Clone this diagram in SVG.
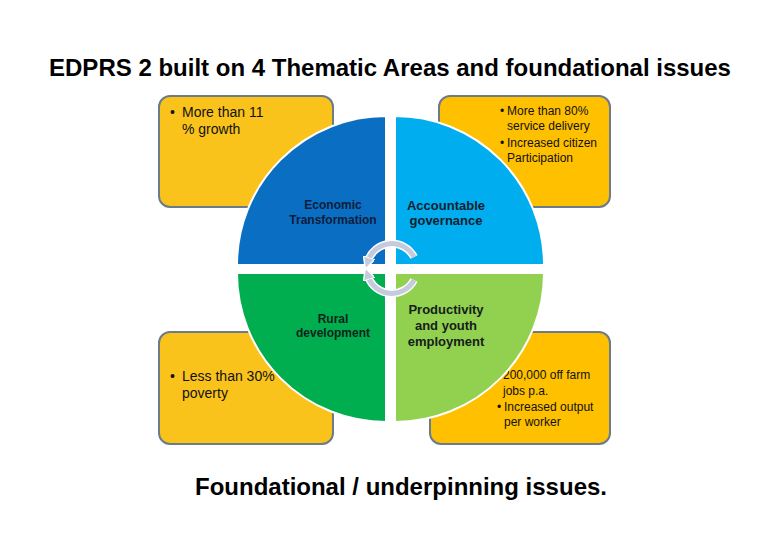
<svg xmlns="http://www.w3.org/2000/svg" width="780" height="540" viewBox="0 0 780 540">
<defs>
<style>
.box{stroke:#6b7b8c;stroke-width:2}
.boxL{fill:#FAC31C}
.boxR{fill:#FFC000}
.btxt{font-family:"Liberation Sans",Arial,sans-serif;fill:#111}
.quad{stroke:#ffffff;stroke-width:2}
.lbl{font-family:"Liberation Sans",Arial,sans-serif;font-weight:bold;text-anchor:middle}
.arc{fill:none;stroke:#C5CADD;stroke-width:5}
.arcw{fill:none;stroke:#ffffff;stroke-width:8}
</style>
<marker id="ah" viewBox="0 0 10 10" refX="3" refY="5" markerWidth="2.4" markerHeight="2.4" orient="auto" markerUnits="strokeWidth">
<path d="M0,0 L10,5 L0,10 Z" fill="#C5CADD" stroke="#ffffff" stroke-width="1.2"/>
</marker>
</defs>
<rect width="780" height="540" fill="#ffffff"/>
<text x="390" y="76" text-anchor="middle" font-family="Liberation Sans,Arial,sans-serif" font-weight="bold" font-size="24" fill="#000">EDPRS 2 built on 4 Thematic Areas and foundational issues</text>

<g id="box-tl">
<rect class="box boxL" x="159" y="96" width="174" height="111" rx="11"/>
<text class="btxt" font-size="14"><tspan x="170" y="117">•</tspan><tspan x="182" y="117">More than 11</tspan><tspan x="182" y="134">% growth</tspan></text>
</g>
<g id="box-tr">
<rect class="box boxR" x="439" y="96" width="171" height="111" rx="11"/>
<text class="btxt" font-size="12"><tspan x="500" y="115">•</tspan><tspan x="507" y="115">More than 80%</tspan><tspan x="507" y="130">service delivery</tspan><tspan x="500" y="147">•</tspan><tspan x="507" y="147">Increased citizen</tspan><tspan x="507" y="162">Participation</tspan></text>
</g>
<g id="box-bl">
<rect class="box boxL" x="159" y="332" width="174" height="112" rx="11"/>
<text class="btxt" font-size="14"><tspan x="170" y="381">•</tspan><tspan x="182" y="381">Less than 30%</tspan><tspan x="182" y="398">poverty</tspan></text>
</g>
<g id="box-br">
<rect class="box boxR" x="430" y="332" width="180" height="112" rx="11"/>
<text class="btxt" font-size="12"><tspan x="503" y="379">200,000 off farm</tspan><tspan x="503" y="395">jobs p.a.</tspan><tspan x="497" y="411">•</tspan><tspan x="504" y="411">Increased output</tspan><tspan x="504" y="426">per worker</tspan></text>
</g>

<g id="q-economic">
<path class="quad" d="M386,265 L237,265 A149,149 0 0 1 386,116 Z" fill="#0A6FC2"/>
<text class="lbl" font-size="12" fill="#0E1C3C"><tspan x="333" y="209">Economic</tspan><tspan x="333" y="224">Transformation</tspan></text>
</g>
<g id="q-governance">
<path class="quad" d="M395,265 L395,116 A149,149 0 0 1 544,265 Z" fill="#00AEEF"/>
<text class="lbl" font-size="13" fill="#14202E"><tspan x="446" y="210">Accountable</tspan><tspan x="446" y="225">governance</tspan></text>
</g>
<g id="q-rural">
<path class="quad" d="M386,273 L386,422 A149,149 0 0 1 237,273 Z" fill="#00AE4F"/>
<text class="lbl" font-size="12" fill="#10241A"><tspan x="333" y="323">Rural</tspan><tspan x="333" y="337">development</tspan></text>
</g>
<g id="q-productivity">
<path class="quad" d="M395,273 L544,273 A149,149 0 0 1 395,422 Z" fill="#92D050"/>
<text class="lbl" font-size="13" fill="#14201A"><tspan x="446" y="314">Productivity</tspan><tspan x="446" y="330">and youth</tspan><tspan x="446" y="346">employment</tspan></text>
</g>

<g id="connectors">
<path class="arcw" d="M414,257 A25,25 0 0 0 368,261"/>
<path class="arc" d="M414,257 A25,25 0 0 0 368,261" marker-end="url(#ah)"/>
<path class="arcw" d="M414,280 A25,25 0 0 1 368,276"/>
<path class="arc" d="M414,280 A25,25 0 0 1 368,276" marker-end="url(#ah)"/>
</g>

<text x="401" y="495" text-anchor="middle" font-family="Liberation Sans,Arial,sans-serif" font-weight="bold" font-size="24" fill="#000">Foundational / underpinning issues.</text>
</svg>
